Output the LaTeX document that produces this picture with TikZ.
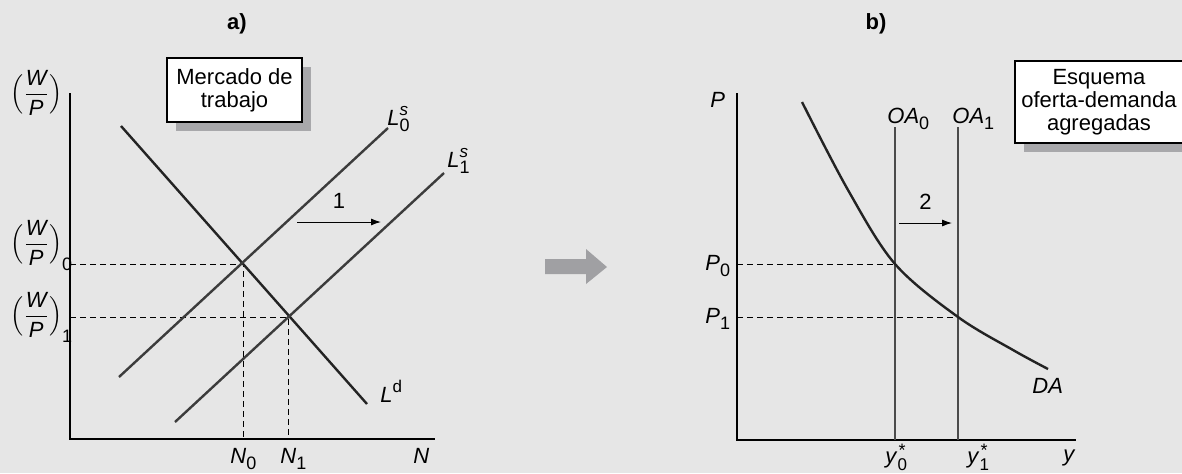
\documentclass[tikz,border=0pt]{standalone}
\usepackage{fontspec}
\setmainfont{Liberation Sans}
\usepackage{amsmath}
\usetikzlibrary{arrows.meta, positioning, shadows}
\definecolor{bggray}{RGB}{230,230,230}
\definecolor{shadowgray}{RGB}{168,168,171}
\definecolor{curvegray}{RGB}{35,35,35}
\definecolor{supplygray}{RGB}{60,60,60}
\definecolor{oagray}{RGB}{75,75,75}
\definecolor{arrowgray}{RGB}{160,160,163}
\newcommand{\ivar}[1]{\text{\itshape #1}}
\newcommand{\lsub}[1]{\raisebox{-3pt}{\fontsize{9}{9}\selectfont #1}}
\newcommand{\lsup}[1]{\raisebox{5pt}{\fontsize{8.5}{9}\selectfont #1}}
\newcommand{\supsub}[2]{\rlap{\lsup{#1}}\lsub{#2}}
\newcommand{\starsub}[1]{\rlap{\raisebox{3.5pt}{\hspace{0.5pt}\fontsize{9}{9}\selectfont *}}\raisebox{-3.5pt}{\fontsize{8.5}{9}\selectfont #1}}
\newcommand{\wpsub}[1]{\raisebox{-10pt}{\fontsize{9}{9}\selectfont #1}}
\newcommand{\wpfrac}{$\Bigl(\dfrac{\ivar{W}}{\ivar{P}}\Bigr)$}

\begin{document}
\begin{tikzpicture}[x=0.5pt, y=-0.5pt, font=\fontsize{11}{11.5}\selectfont,
  axis/.style={line width=0.6pt, black},
  curve/.style={line width=1.2pt, curvegray},
  supply/.style={line width=1.2pt, supplygray},
  oaline/.style={line width=1.3pt, oagray},
  guide/.style={line width=0.5pt, dash pattern=on 3pt off 2pt},
  shiftarrow/.style={line width=0.5pt, -{Latex[length=5pt, width=3.5pt]}},
  lbl/.style={anchor=base west, inner sep=0pt},
  titlebox/.style={draw, line width=0.6pt, fill=white, align=center, inner sep=0pt,
    drop shadow={shadow xshift=4.5pt, shadow yshift=-4.5pt, fill=shadowgray, opacity=1}}]
\fill[bggray] (0,0) rectangle (1182,473);
\useasboundingbox (0,0) rectangle (1182,473);

% a) mercado de trabajo
\node (titleA) at (237,24) {\textbf{a)}};
\node[titlebox, minimum width=67.5pt, minimum height=32pt] (boxA) at (234.5,90) {Mercado de\\trabajo};
\coordinate (oA) at (70,439);
\draw[axis] (70,93) -- (oA) -- (435,439);
\coordinate (eA0) at (243,264);
\coordinate (eA1) at (288,317);
\draw[guide] (oA |- eA0) -- (eA0) -- (eA0 |- oA);
\draw[guide] (oA |- eA1) -- (eA1) -- (eA1 |- oA);
\draw[curve] (121,126) -- (367,404);
\draw[supply] (119,377) -- (388,128);
\draw[supply] (175,422) -- (444,173);
\coordinate (s1a) at (297,222);
\coordinate (s1b) at (381,222);
\draw[shiftarrow] (s1a) -- node[above=3pt] (lblone) {1} (s1b);
\node[lbl] (ls0) at (387,125) {\textit{L}\supsub{\textit{s}}{0}};
\node[lbl] (ls1) at (447,167) {\textit{L}\supsub{\textit{s}}{1}};
\node[lbl] (ld) at (380,402) {\textit{L}\lsup{d}};
\node[lbl] (wpy) at (10,100) {\wpfrac};
\node[lbl] (wp0) at (10,250) {\wpfrac\wpsub{0}};
\node[lbl] (wp1) at (10,322) {\wpfrac\wpsub{1}};
\node[lbl] (n0) at (230,463) {\textit{N}\lsub{0}};
\node[lbl] (n1) at (280,463) {\textit{N}\lsub{1}};
\node[lbl] (nax) at (413,463) {\textit{N}};

% flecha entre paneles
\fill[arrowgray] (545,259) -- (586,259) -- (586,249) -- (607,267) -- (586,284) -- (586,274) -- (545,274) -- cycle;

% b) oferta-demanda agregadas
\node (titleB) at (876,24) {\textbf{b)}};
\node[titlebox, minimum width=84pt, minimum height=41pt] (boxB) at (1099,102) {Esquema\\oferta-demanda\\agregadas};
\coordinate (oB) at (737,440);
\draw[axis] (737,93) -- (oB) -- (1076,440);
\coordinate (eB0) at (895,264);
\coordinate (eB1) at (958,317);
\draw[guide] (oB |- eB0) -- (eB0);
\draw[guide] (oB |- eB1) -- (eB1);
\draw[oaline] (895,127) -- (eB0) -- (eB0 |- oB);
\draw[oaline] (958,127) -- (eB1) -- (eB1 |- oB);
\draw[curve] plot[smooth, tension=0.55] coordinates {(802,102) (848,190) (eB0) (eB1) (1013,350) (1048,369)};
\coordinate (s2a) at (899,223);
\coordinate (s2b) at (952,223);
\draw[shiftarrow] (s2a) -- node[above=3pt] (lbltwo) {2} (s2b);
\node[lbl] (oa0) at (887,123) {\textit{OA}\lsub{0}};
\node[lbl] (oa1) at (952,123) {\textit{OA}\lsub{1}};
\node[lbl] (da) at (1032,393) {\textit{DA}};
\node[lbl] (pax) at (710,107) {\textit{P}};
\node[lbl] (p0) at (705,270) {\textit{P}\lsub{0}};
\node[lbl] (p1) at (705,323) {\textit{P}\lsub{1}};
\node[lbl] (y0) at (885,463) {\textit{y}\starsub{0}};
\node[lbl] (y1) at (967,463) {\textit{y}\starsub{1}};
\node[lbl] (yax) at (1063,461) {\textit{y}};
\end{tikzpicture}
\end{document}
